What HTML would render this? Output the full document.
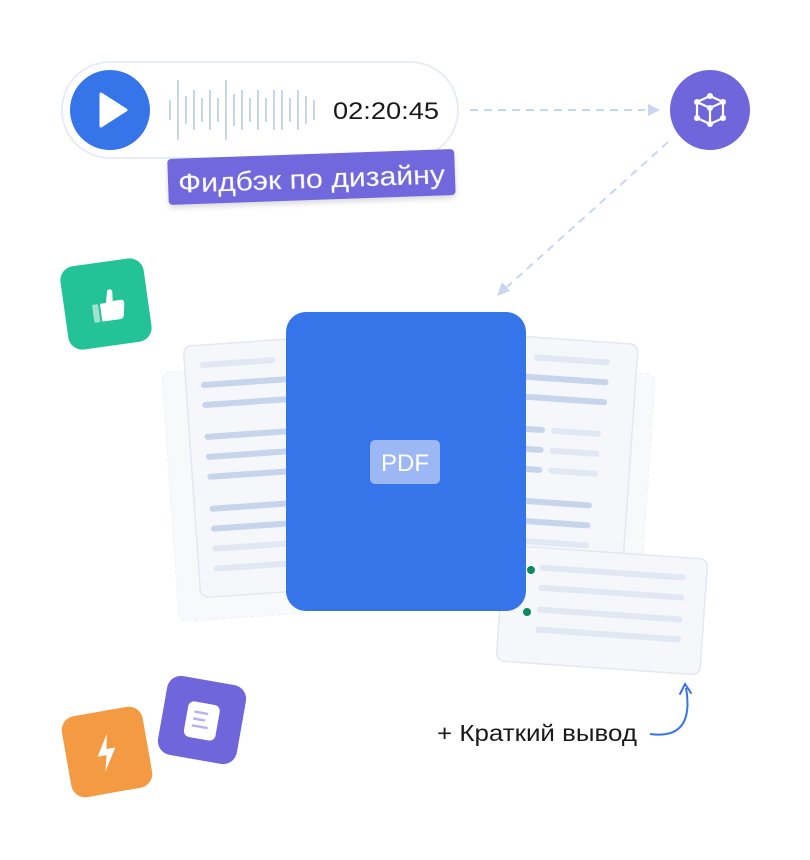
<!DOCTYPE html>
<html><head><meta charset="utf-8"><style>
html,body{margin:0;padding:0;background:#fff;}
svg{display:block;font-family:"Liberation Sans",sans-serif;}
</style></head><body>
<svg width="810" height="860" viewBox="0 0 810 860" xmlns="http://www.w3.org/2000/svg">
<defs>
<filter id="sh" x="-20%" y="-20%" width="140%" height="160%"><feDropShadow dx="0" dy="3" stdDeviation="3" flood-color="#000" flood-opacity="0.15"/></filter>
</defs>
<rect x="62" y="62" width="396" height="96" rx="48" fill="#fff" stroke="#e8ecf3" stroke-width="2"/>
<circle cx="110" cy="110" r="40" fill="#3574E9"/>
<path d="M101 94 L126 110 L101 126 Z" fill="#fff" stroke="#fff" stroke-width="3" stroke-linejoin="round"/>
<g stroke="#c9d6ef" stroke-width="2">
<line x1="170" y1="100" x2="170" y2="120"/><line x1="178" y1="80" x2="178" y2="140"/>
<line x1="186" y1="96" x2="186" y2="124"/><line x1="194" y1="90" x2="194" y2="130"/>
<line x1="202" y1="98" x2="202" y2="122"/><line x1="210" y1="90" x2="210" y2="130"/>
<line x1="218" y1="98" x2="218" y2="122"/><line x1="226" y1="80" x2="226" y2="140"/>
<line x1="234" y1="94" x2="234" y2="126"/><line x1="242" y1="90" x2="242" y2="130"/>
<line x1="250" y1="98" x2="250" y2="122"/><line x1="258" y1="90" x2="258" y2="130"/>
<line x1="266" y1="98" x2="266" y2="122"/><line x1="274" y1="90" x2="274" y2="130"/>
<line x1="282" y1="90" x2="282" y2="130"/><line x1="290" y1="98" x2="290" y2="122"/>
<line x1="298" y1="90" x2="298" y2="130"/><line x1="306" y1="96" x2="306" y2="124"/>
<line x1="314" y1="100" x2="314" y2="120"/>
</g>
<text x="333" y="119" font-size="24" fill="#1a1a1a" textLength="106" lengthAdjust="spacingAndGlyphs">02:20:45</text>
<g transform="rotate(-2 311 178)" filter="url(#sh)">
<rect x="168" y="154" width="287" height="46" rx="4" fill="#6F68DC"/>
<text x="178" y="188" font-size="27" fill="#fff" textLength="267" lengthAdjust="spacingAndGlyphs">Фидбэк по дизайну</text>
</g>
<line x1="470" y1="110" x2="645" y2="110" stroke="#c9d6ef" stroke-width="2" stroke-dasharray="8 6"/>
<path d="M648 104 L660 110 L648 116 Z" fill="#c9d6ef"/>
<line x1="668" y1="142" x2="507" y2="287" stroke="#c9d6ef" stroke-width="2" stroke-dasharray="8 6"/>
<path d="M497 296 L502 282 L510 291 Z" fill="#c9d6ef"/>
<circle cx="710" cy="110" r="40" fill="#7066DC"/>
<g stroke="#fff" stroke-width="2.2" fill="none" stroke-linejoin="round">
<path d="M697 102 L710 96 L723 102 L723 118 L710 124 L697 118 Z"/>
<path d="M697 102 L710 108 L723 102 M710 108 L710 124"/>
</g>
<g fill="#fff"><circle cx="697" cy="102" r="3"/><circle cx="710" cy="96" r="3"/><circle cx="723" cy="102" r="3"/><circle cx="723" cy="118" r="3"/><circle cx="710" cy="124" r="3"/><circle cx="697" cy="118" r="3"/><circle cx="710" cy="108" r="3"/></g>
<g transform="rotate(-8 106 304)">
<rect x="64" y="262" width="84" height="84" rx="14" fill="#24C397"/>
<rect x="92" y="303" width="6" height="18" rx="1" fill="#9fe3cd"/>
<path d="M100 303 L106 303 L109 291 Q112 288 114 292 L113 302 L122 302 Q125 303 124 307 L122 318 Q121 321 118 321 L100 321 Z" fill="#fff"/>
</g>
<g transform="rotate(-4 230 490)">
<rect x="170" y="368" width="130" height="250" rx="8" fill="#f8f9fb" stroke="#eef1f6" stroke-dasharray="4 3"/>
</g>
<g transform="rotate(-4 250 470)">
<rect x="192" y="342" width="130" height="252" rx="8" fill="#f5f7fb" stroke="#e4e8ef" stroke-width="1.5"/>
<g stroke-linecap="round" stroke-width="6">
<line x1="210" y1="362" x2="280" y2="362" stroke="#e1e8f4"/>
<line x1="210" y1="382" x2="300" y2="382" stroke="#c6d4ec"/>
<line x1="210" y1="402" x2="300" y2="402" stroke="#c6d4ec"/>
<line x1="210" y1="434" x2="300" y2="434" stroke="#c6d4ec"/>
<line x1="210" y1="454" x2="300" y2="454" stroke="#c6d4ec"/>
<line x1="210" y1="474" x2="300" y2="474" stroke="#c6d4ec"/>
<line x1="210" y1="506" x2="300" y2="506" stroke="#c6d4ec"/>
<line x1="210" y1="526" x2="300" y2="526" stroke="#c6d4ec"/>
<line x1="210" y1="546" x2="300" y2="546" stroke="#e1e8f4"/>
<line x1="210" y1="566" x2="300" y2="566" stroke="#e1e8f4"/>
</g>
</g>
<g transform="rotate(4 590 480)">
<rect x="540" y="370" width="108" height="250" rx="8" fill="#f8f9fb" stroke="#eef1f6" stroke-dasharray="4 3"/>
</g>
<g transform="rotate(4 570 460)">
<rect x="510" y="340" width="120" height="250" rx="8" fill="#f5f7fb" stroke="#e4e8ef" stroke-width="1.5"/>
<g stroke-linecap="round" stroke-width="6">
<line x1="530" y1="360" x2="600" y2="360" stroke="#e1e8f4"/>
<line x1="520" y1="380" x2="600" y2="380" stroke="#c6d4ec"/>
<line x1="520" y1="400" x2="600" y2="400" stroke="#c6d4ec"/>
<line x1="520" y1="432" x2="540" y2="432" stroke="#c6d4ec"/>
<line x1="552" y1="432" x2="596" y2="432" stroke="#e1e8f4"/>
<line x1="520" y1="452" x2="540" y2="452" stroke="#c6d4ec"/>
<line x1="552" y1="452" x2="596" y2="452" stroke="#e1e8f4"/>
<line x1="520" y1="472" x2="540" y2="472" stroke="#c6d4ec"/>
<line x1="552" y1="472" x2="596" y2="472" stroke="#e1e8f4"/>
<line x1="520" y1="504" x2="592" y2="504" stroke="#c6d4ec"/>
<line x1="520" y1="524" x2="592" y2="524" stroke="#c6d4ec"/>
<line x1="520" y1="544" x2="592" y2="544" stroke="#e1e8f4"/>
</g>
</g>
<g transform="rotate(4 602 610)">
<rect x="500" y="552" width="204" height="116" rx="8" fill="#f5f7fb" stroke="#e4e8ef" stroke-width="1.5"/>
<g stroke="#e1e8f4" stroke-width="6" stroke-linecap="round">
<line x1="540" y1="572" x2="680" y2="572"/>
<line x1="540" y1="592" x2="680" y2="592"/>
<line x1="540" y1="614" x2="680" y2="614"/>
<line x1="540" y1="634" x2="680" y2="634"/>
</g>
</g>
<rect x="286" y="312" width="240" height="299" rx="20" fill="#3574E9"/>
<rect x="370" y="440" width="70" height="44" rx="5" fill="#9BB8F4"/>
<text x="405" y="471" font-size="24" fill="#fff" text-anchor="middle">PDF</text>
<circle cx="531" cy="570" r="4" fill="#0a8a5e"/>
<circle cx="527" cy="612" r="4" fill="#0a8a5e"/>
<text x="437" y="741" font-size="23" fill="#1a1a1a" textLength="200" lengthAdjust="spacingAndGlyphs">+ Краткий вывод</text>
<path d="M650 734 Q695 740 686 688" fill="none" stroke="#3574E9" stroke-width="2"/>
<path d="M680 694 L685 684 L691 693" fill="none" stroke="#3574E9" stroke-width="2" stroke-linecap="round"/>
<g transform="rotate(10 202 720)">
<rect x="162" y="680" width="80" height="80" rx="14" fill="#7066DC"/>
<rect x="186" y="703" width="32" height="36" rx="6" fill="#fff"/>
<g stroke="#b7b2f0" stroke-width="2.5" stroke-linecap="round"><line x1="194" y1="713" x2="206" y2="713"/><line x1="194" y1="720" x2="204" y2="720"/><line x1="194" y1="727" x2="208" y2="727"/></g>
</g>
<g transform="rotate(-10 107 752)">
<rect x="66" y="711" width="82" height="82" rx="14" fill="#F39A43"/>
<path d="M110 734 L97 755 L106 755 L102 771 L116 749 L107 749 Z" fill="#fff"/>
</g>
</svg>
</body></html>
